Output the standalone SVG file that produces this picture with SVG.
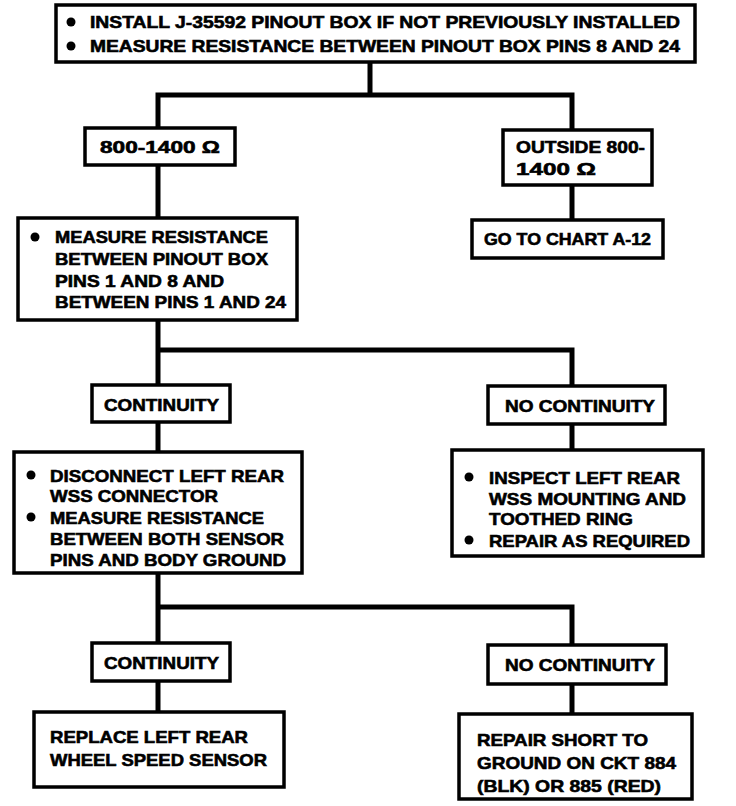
<svg xmlns="http://www.w3.org/2000/svg" width="736" height="806" viewBox="0 0 736 806">
<style>
.box{fill:#fff;stroke:#000;stroke-width:3.5}
.wire{fill:none;stroke:#000;stroke-width:5;stroke-linecap:square}
text{font-family:"Liberation Sans",Arial,sans-serif;font-weight:bold;font-size:17px;fill:#000;stroke:#000;stroke-width:0.6}
.dot{fill:#000}
</style>
<rect width="736" height="806" fill="#fff"/>
<g id="connectors">
<path class="wire" d="M370 62V95M158 95H572M158 95V128M572 95V130"/>
<path class="wire" d="M158 165V218M572 185V220"/>
<path class="wire" d="M158 320V350H572V386M158 350V385"/>
<path class="wire" d="M158 422V452M572 424V450"/>
<path class="wire" d="M158 573V607H572V645M158 607V643"/>
<path class="wire" d="M158 681V712M572 684V714"/>
</g>
<g id="n1">
<rect class="box" x="56" y="5" width="639" height="57"/>
<circle class="dot" cx="71" cy="22" r="4.5"/>
<circle class="dot" cx="71" cy="46" r="4.5"/>
<text x="90" y="28" textLength="590" lengthAdjust="spacingAndGlyphs">INSTALL J-35592 PINOUT BOX IF NOT PREVIOUSLY INSTALLED</text>
<text x="90" y="52" textLength="590" lengthAdjust="spacingAndGlyphs">MEASURE RESISTANCE BETWEEN PINOUT BOX PINS 8 AND 24</text>
</g>
<g id="n2">
<rect class="box" x="85" y="128" width="150" height="37"/>
<text x="100" y="153" textLength="120" lengthAdjust="spacingAndGlyphs">800-1400 Ω</text>
</g>
<g id="n3">
<rect class="box" x="503" y="130" width="149" height="55"/>
<text x="516" y="153" textLength="129" lengthAdjust="spacingAndGlyphs">OUTSIDE 800-</text>
<text x="516" y="175" textLength="80" lengthAdjust="spacingAndGlyphs">1400 Ω</text>
</g>
<g id="n4">
<rect class="box" x="472" y="220" width="191" height="38"/>
<text x="484" y="245" textLength="167" lengthAdjust="spacingAndGlyphs">GO TO CHART A-12</text>
</g>
<g id="n5">
<rect class="box" x="18" y="218" width="279" height="102"/>
<circle class="dot" cx="35" cy="237" r="4.5"/>
<text x="55" y="243" textLength="213" lengthAdjust="spacingAndGlyphs">MEASURE RESISTANCE</text>
<text x="55" y="265" textLength="213" lengthAdjust="spacingAndGlyphs">BETWEEN PINOUT BOX</text>
<text x="55" y="287" textLength="169" lengthAdjust="spacingAndGlyphs">PINS 1 AND 8 AND</text>
<text x="55" y="308" textLength="231" lengthAdjust="spacingAndGlyphs">BETWEEN PINS 1 AND 24</text>
</g>
<g id="n6">
<rect class="box" x="92" y="385" width="138" height="37"/>
<text x="104" y="411" textLength="115" lengthAdjust="spacingAndGlyphs">CONTINUITY</text>
</g>
<g id="n7">
<rect class="box" x="488" y="386" width="177" height="38"/>
<text x="505" y="412" textLength="150" lengthAdjust="spacingAndGlyphs">NO CONTINUITY</text>
</g>
<g id="n8">
<rect class="box" x="14" y="452" width="288" height="121"/>
<circle class="dot" cx="31" cy="475" r="4.5"/>
<circle class="dot" cx="31" cy="517" r="4.5"/>
<text x="50" y="482" textLength="234" lengthAdjust="spacingAndGlyphs">DISCONNECT LEFT REAR</text>
<text x="50" y="502" textLength="168" lengthAdjust="spacingAndGlyphs">WSS CONNECTOR</text>
<text x="50" y="524" textLength="214" lengthAdjust="spacingAndGlyphs">MEASURE RESISTANCE</text>
<text x="50" y="545" textLength="234" lengthAdjust="spacingAndGlyphs">BETWEEN BOTH SENSOR</text>
<text x="50" y="566" textLength="236" lengthAdjust="spacingAndGlyphs">PINS AND BODY GROUND</text>
</g>
<g id="n9">
<rect class="box" x="452" y="450" width="251" height="106"/>
<circle class="dot" cx="469" cy="477" r="4.5"/>
<circle class="dot" cx="469" cy="540" r="4.5"/>
<text x="489" y="484" textLength="191" lengthAdjust="spacingAndGlyphs">INSPECT LEFT REAR</text>
<text x="489" y="505" textLength="197" lengthAdjust="spacingAndGlyphs">WSS MOUNTING AND</text>
<text x="489" y="525" textLength="144" lengthAdjust="spacingAndGlyphs">TOOTHED RING</text>
<text x="489" y="547" textLength="201" lengthAdjust="spacingAndGlyphs">REPAIR AS REQUIRED</text>
</g>
<g id="n10">
<rect class="box" x="92" y="643" width="138" height="38"/>
<text x="104" y="669" textLength="115" lengthAdjust="spacingAndGlyphs">CONTINUITY</text>
</g>
<g id="n11">
<rect class="box" x="488" y="645" width="178" height="39"/>
<text x="505" y="671" textLength="150" lengthAdjust="spacingAndGlyphs">NO CONTINUITY</text>
</g>
<g id="n12">
<rect class="box" x="34" y="712" width="250" height="75"/>
<text x="50" y="743" textLength="198" lengthAdjust="spacingAndGlyphs">REPLACE LEFT REAR</text>
<text x="50" y="766" textLength="217" lengthAdjust="spacingAndGlyphs">WHEEL SPEED SENSOR</text>
</g>
<g id="n13">
<rect class="box" x="459" y="714" width="233" height="85"/>
<text x="477" y="746" textLength="171" lengthAdjust="spacingAndGlyphs">REPAIR SHORT TO</text>
<text x="477" y="769" textLength="199" lengthAdjust="spacingAndGlyphs">GROUND ON CKT 884</text>
<text x="477" y="792" textLength="184" lengthAdjust="spacingAndGlyphs">(BLK) OR 885 (RED)</text>
</g>
</svg>
